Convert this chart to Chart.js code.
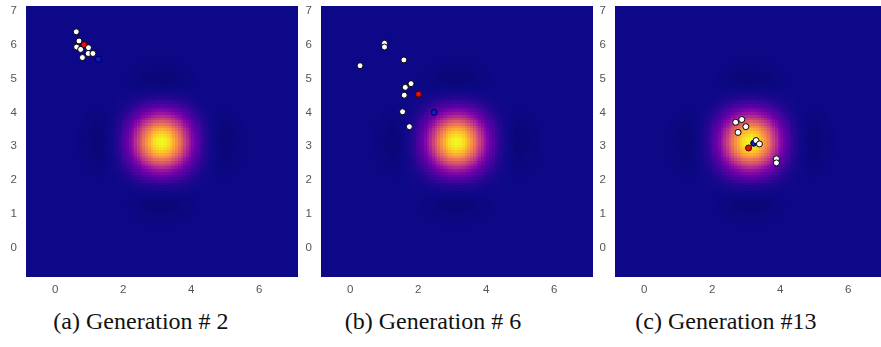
<!DOCTYPE html>
<html>
<head>
<meta charset="utf-8">
<script src="https://cdn.jsdelivr.net/npm/chart.js@4.4.0/dist/chart.umd.min.js"></script>
<style>
  html, body { margin: 0; padding: 0; background: #fff; overflow: hidden; }
  #figura { position: relative; width: 881px; height: 347px; overflow: hidden; }
  #figura canvas { position: absolute; top: 0; }
  .pie {
    position: absolute; top: 307px; width: 300px; text-align: center;
    font-family: "Liberation Serif", "DejaVu Serif", serif; font-size: 24px;
    line-height: 28px; color: #111; white-space: pre;
  }
</style>
</head>
<body>
<div id="figura">
  <canvas id="grafico1" width="300" height="300" style="left:0px"></canvas>
  <canvas id="grafico2" width="300" height="300" style="left:295px"></canvas>
  <canvas id="grafico3" width="300" height="300" style="left:589px"></canvas>
  <div class="pie" id="pie1" style="left:-9px"></div>
  <div class="pie" id="pie2" style="left:283px"></div>
  <div class="pie" id="pie3" style="left:576px"></div>
</div>
<script>
// ejes: de pi-4 a pi+4 en ambas direcciones
const ejeMin = Math.PI - 4;
const ejeMax = Math.PI + 4;
const xTicks = [0, 2, 4, 6];
const yTicks = [0, 1, 2, 3, 4, 5, 6, 7];

const titulos = ['(a) Generation # 2', '(b) Generation # 6', '(c) Generation #13'];

// poblacion generacion 2
const gen2X = [0.62, 0.70, 0.63, 0.75, 0.98, 0.97, 1.11, 0.80];
const gen2Y = [6.38, 6.11, 5.93, 5.86, 5.91, 5.74, 5.74, 5.62];
const gen2Rojo = [0.85, 6.00];
const gen2Azul = [1.27, 5.57];

// poblacion generacion 6
const gen6X = [1.01, 1.01, 0.29, 1.58, 1.79, 1.62, 1.59, 1.54, 1.74];
const gen6Y = [6.04, 5.93, 5.38, 5.55, 4.85, 4.74, 4.51, 4.02, 3.58];
const gen6Rojo = [2.01, 4.54];
const gen6Azul = [2.47, 4.00];

// poblacion generacion 13
const gen13X = [2.69, 2.87, 2.99, 2.76, 3.29, 3.39, 3.89, 3.89];
const gen13Y = [3.71, 3.79, 3.58, 3.41, 3.17, 3.07, 2.63, 2.51];
const gen13Rojo = [3.07, 2.95];
const gen13Azul = [3.22, 3.09];

// superficie de fondo (Easom invertida), maximo en (pi, pi)
const superficie = (x, y) =>
    Math.cos(x) * Math.cos(y) * Math.exp(-((x - Math.PI) ** 2 + (y - Math.PI) ** 2));

const celdas = 100;

// mapa de color plasma
const plasma = [
    [13, 8, 135], [65, 4, 157], [106, 0, 168], [143, 13, 164], [177, 42, 144],
    [204, 71, 120], [225, 100, 98], [242, 132, 75], [252, 166, 54], [252, 206, 37], [240, 249, 33]
];
const colorFondoBajo = [10, 7, 119];
const minimoSup = -0.0092;

const mezclar = (a, b, t) => a.map((v, i) => Math.round(v + (b[i] - v) * t));

const colorDe = (v) => {
    if (v < 0) {
        const t = Math.min(1, v / minimoSup);
        const c = mezclar(plasma[0], colorFondoBajo, t);
        return `rgb(${c[0]},${c[1]},${c[2]})`;
    }
    const s = Math.min(1, v) * (plasma.length - 1);
    const i = Math.min(plasma.length - 2, Math.floor(s));
    const c = mezclar(plasma[i], plasma[i + 1], s - i);
    return `rgb(${c[0]},${c[1]},${c[2]})`;
};

// pinta la superficie como celdas usando las escalas del grafico
const mapaCalor = {
    id: 'mapaCalor',
    beforeDatasetsDraw(chart) {
        const { ctx, chartArea, scales: { x, y } } = chart;
        const paso = (ejeMax - ejeMin) / celdas;
        ctx.save();
        ctx.beginPath();
        ctx.rect(chartArea.left, chartArea.top, chartArea.width, chartArea.height);
        ctx.clip();
        for (let i = 0; i < celdas; i++) {
            const x0 = ejeMin + i * paso;
            const px0 = Math.floor(x.getPixelForValue(x0));
            const px1 = Math.ceil(x.getPixelForValue(x0 + paso));
            for (let j = 0; j < celdas; j++) {
                const y0 = ejeMin + j * paso;
                const py0 = Math.floor(y.getPixelForValue(y0 + paso));
                const py1 = Math.ceil(y.getPixelForValue(y0));
                ctx.fillStyle = colorDe(superficie(x0 + paso / 2, y0 + paso / 2));
                ctx.fillRect(px0, py0, px1 - px0, py1 - py0);
            }
        }
        ctx.restore();
    }
};

const fuenteTicks = { family: '"Liberation Sans", Arial, sans-serif', size: 11.5 };

const crearGrafico = (id, xs, ys, rojo, azul) => {
    const ctx = document.getElementById(id).getContext('2d');
    return new Chart(ctx, {
        type: 'scatter',
        data: {
            datasets: [
                {
                    data: xs.map((v, i) => ({ x: v, y: ys[i] })),
                    backgroundColor: '#ffffff',
                    borderColor: '#000000',
                    borderWidth: 1,
                    pointRadius: 3
                },
                {
                    data: [{ x: rojo[0], y: rojo[1] }],
                    backgroundColor: '#e8100c',
                    borderColor: '#3a0000',
                    borderWidth: 1,
                    pointRadius: 3
                },
                {
                    data: [{ x: azul[0], y: azul[1] }],
                    backgroundColor: '#1018d0',
                    borderColor: '#000033',
                    borderWidth: 1,
                    pointRadius: 3
                }
            ]
        },
        options: {
            responsive: false,
            animation: false,
            devicePixelRatio: 1,
            layout: { autoPadding: false, padding: { top: 6, right: 2, bottom: 0, left: 0 } },
            plugins: { legend: { display: false }, tooltip: { enabled: false } },
            scales: {
                x: {
                    type: 'linear', min: ejeMin, max: ejeMax,
                    grid: { display: false, drawTicks: false },
                    border: { display: false },
                    afterBuildTicks: (s) => { s.ticks = xTicks.map(v => ({ value: v })); },
                    afterFit: (s) => { s.height = 23; s.paddingLeft = 0; s.paddingRight = 0; },
                    ticks: { padding: 6, color: '#555', font: fuenteTicks, maxRotation: 0 }
                },
                y: {
                    type: 'linear', min: ejeMin, max: ejeMax,
                    grid: { display: false, drawTicks: false },
                    border: { display: false },
                    afterBuildTicks: (s) => { s.ticks = yTicks.map(v => ({ value: v })); },
                    afterFit: (s) => { s.width = 26; s.paddingTop = 0; s.paddingBottom = 0; },
                    ticks: { padding: 9, color: '#555', font: fuenteTicks }
                }
            }
        },
        plugins: [mapaCalor]
    });
};

window.grafico1 = crearGrafico('grafico1', gen2X, gen2Y, gen2Rojo, gen2Azul);
window.grafico2 = crearGrafico('grafico2', gen6X, gen6Y, gen6Rojo, gen6Azul);
window.grafico3 = crearGrafico('grafico3', gen13X, gen13Y, gen13Rojo, gen13Azul);

titulos.forEach((t, i) => { document.getElementById('pie' + (i + 1)).textContent = t; });
</script>
</body>
</html>
